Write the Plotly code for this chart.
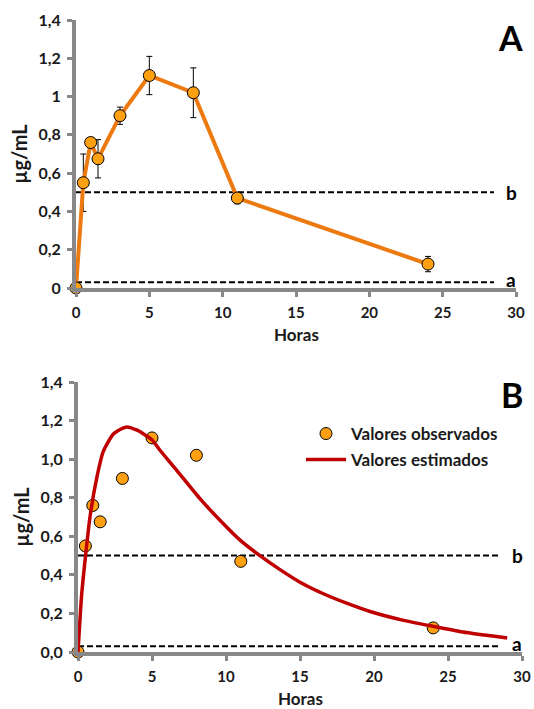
import plotly.graph_objects as go

# ---------------- data ----------------
time_h = [0, 0.5, 1, 1.5, 3, 5, 8, 11, 24]
conc_obs = [0.0, 0.55, 0.76, 0.675, 0.90, 1.11, 1.02, 0.47, 0.125]
conc_err = [0.0, 0.15, 0.025, 0.10, 0.045, 0.10, 0.13, 0.03, 0.04]

curve_t = [0, 0.25, 0.54, 0.81, 1.26, 1.71, 2.39, 3.0, 3.4, 4.0, 4.41, 5.0, 5.54,
           6.67, 8.24, 9.82, 10.95, 12.18, 13.65, 15.0, 16.58, 18.15, 19.73,
           22, 24, 26, 29]
curve_v = [0, 0.30, 0.52, 0.70, 0.90, 1.04, 1.13, 1.16, 1.166, 1.15, 1.132, 1.10,
           1.046, 0.942, 0.795, 0.665, 0.58, 0.506, 0.427, 0.362, 0.302, 0.253,
           0.210, 0.164, 0.133, 0.104, 0.073]

limit_b = 0.5
limit_a = 0.03
limit_x = [0, 28.5]

x_ticks = [0, 5, 10, 15, 20, 25, 30]
y_ticks = [0, 0.2, 0.4, 0.6, 0.8, 1.0, 1.2, 1.4]
y_text_A = ["0", "0,2", "0,4", "0,6", "0,8", "1", "1,2", "1,4"]
y_text_B = ["0,0", "0,2", "0,4", "0,6", "0,8", "1,0", "1,2", "1,4"]

x_title = "Horas"
y_title = "µg/mL"
legend_labels = ["Valores observados", "Valores estimados"]

# ---------------- style ----------------
FONT = "Lato"
ORANGE_LINE = "#EC7A10"
ORANGE_FILL = "#FFA010"
RED = "#C00000"
AXIS_GRAY = "#888888"
TXT = "#1a1a1a"

W, H = 534, 709

def px_x(p):
    return p / W

def px_y(p):
    return 1 - p / H

fig = go.Figure()

# ---------- Panel A ----------
for lim in (limit_b, limit_a):
    fig.add_trace(go.Scatter(x=limit_x, y=[lim, lim], mode="lines",
                             line=dict(color="black", width=2, dash="6px,3px"),
                             xaxis="x", yaxis="y", showlegend=False, hoverinfo="skip"))

fig.add_trace(go.Scatter(
    x=time_h, y=conc_obs, mode="lines+markers",
    line=dict(color=ORANGE_LINE, width=4),
    marker=dict(size=12, color=ORANGE_FILL, line=dict(color="black", width=1)),
    error_y=dict(type="data", array=conc_err, color="black", thickness=1, width=3),
    cliponaxis=False, xaxis="x", yaxis="y", showlegend=False))

# ---------- Panel B ----------
for lim in (limit_b, limit_a):
    fig.add_trace(go.Scatter(x=limit_x, y=[lim, lim], mode="lines",
                             line=dict(color="black", width=2, dash="6px,3px"),
                             xaxis="x2", yaxis="y2", showlegend=False, hoverinfo="skip"))

fig.add_trace(go.Scatter(
    x=time_h, y=conc_obs, mode="markers", name=legend_labels[0],
    marker=dict(size=12, color=ORANGE_FILL, line=dict(color="black", width=1)),
    cliponaxis=False, xaxis="x2", yaxis="y2", legend="legend"))

fig.add_trace(go.Scatter(
    x=curve_t, y=curve_v, mode="lines", name=legend_labels[1],
    line=dict(color=RED, width=3.5, shape="spline", smoothing=0.6),
    cliponaxis=False, xaxis="x2", yaxis="y2", legend="legend2"))

axis_common = dict(
    showgrid=False, zeroline=False, showline=True, linecolor=AXIS_GRAY, linewidth=4,
    ticks="outside", tickcolor=AXIS_GRAY, ticklen=5, tickwidth=3,
    tickfont=dict(family=FONT, size=16, color=TXT, weight="bold"),
)

xa = dict(axis_common, range=[0, 30], tickvals=x_ticks,
          ticktext=[str(v) for v in x_ticks], ticklabelstandoff=3,
          tickfont=dict(family=FONT, size=15, color=TXT, weight="bold"))

ytitle = dict(text=y_title, font=dict(family=FONT, size=20, color=TXT, weight="bold"),
              standoff=6)

fig.update_layout(
    width=W, height=H,
    margin=dict(l=0, r=0, t=0, b=0, autoexpand=False),
    paper_bgcolor="white", plot_bgcolor="white",
    xaxis=dict(xa, domain=[px_x(76), px_x(516)], anchor="y"),
    yaxis=dict(axis_common, range=[0, 1.4], tickvals=y_ticks, ticktext=y_text_A,
               ticklabelstandoff=3,
               domain=[px_y(288), px_y(20)], anchor="x", title=ytitle),
    xaxis2=dict(xa, domain=[px_x(78), px_x(522)], anchor="y2"),
    yaxis2=dict(axis_common, range=[0, 1.4], tickvals=y_ticks, ticktext=y_text_B,
                ticklabelstandoff=3,
                domain=[px_y(652), px_y(382)], anchor="x2", title=ytitle),
    legend=dict(x=px_x(301), y=px_y(416), xanchor="left", yanchor="top",
                font=dict(family=FONT, size=17, color=TXT, weight="bold"),
                bgcolor="rgba(0,0,0,0)", itemwidth=40),
    legend2=dict(x=px_x(301), y=px_y(442), xanchor="left", yanchor="top",
                 font=dict(family=FONT, size=17, color=TXT, weight="bold"),
                 bgcolor="rgba(0,0,0,0)", itemwidth=40),
)

# x-axis titles
for cx, cy in ((296, 335), (300, 698)):
    fig.add_annotation(text=x_title, x=px_x(cx), y=px_y(cy), xref="paper", yref="paper",
                       xanchor="center", yanchor="middle", showarrow=False, borderpad=0,
                       font=dict(family=FONT, size=17, color=TXT, weight="bold"))

# panel letters
fig.add_annotation(text="A", x=px_x(525), y=px_y(37), xref="paper", yref="paper",
                   xanchor="right", yanchor="middle", showarrow=False,
                   font=dict(family=FONT, size=34, color="black", weight="bold"))
fig.add_annotation(text="B", x=px_x(525), y=px_y(394), xref="paper", yref="paper",
                   xanchor="right", yanchor="middle", showarrow=False,
                   font=dict(family=FONT, size=34, color="black", weight="bold"))

# limit labels
for xr, yr in (("x", "y"), ("x2", "y2")):
    fig.add_annotation(text="b", x=29.2, y=limit_b, xref=xr, yref=yr, xanchor="left",
                       yanchor="middle", showarrow=False,
                       font=dict(family=FONT, size=19, color="black", weight="bold"))
    fig.add_annotation(text="a", x=29.2, y=limit_a, xref=xr, yref=yr, xanchor="left",
                       yanchor="middle", yshift=3, showarrow=False,
                       font=dict(family=FONT, size=19, color="black", weight="bold"))

fig.write_html("out.html", config={"displayModeBar": False},
               post_script="document.body.style.margin='0';document.body.style.overflow='hidden';")
